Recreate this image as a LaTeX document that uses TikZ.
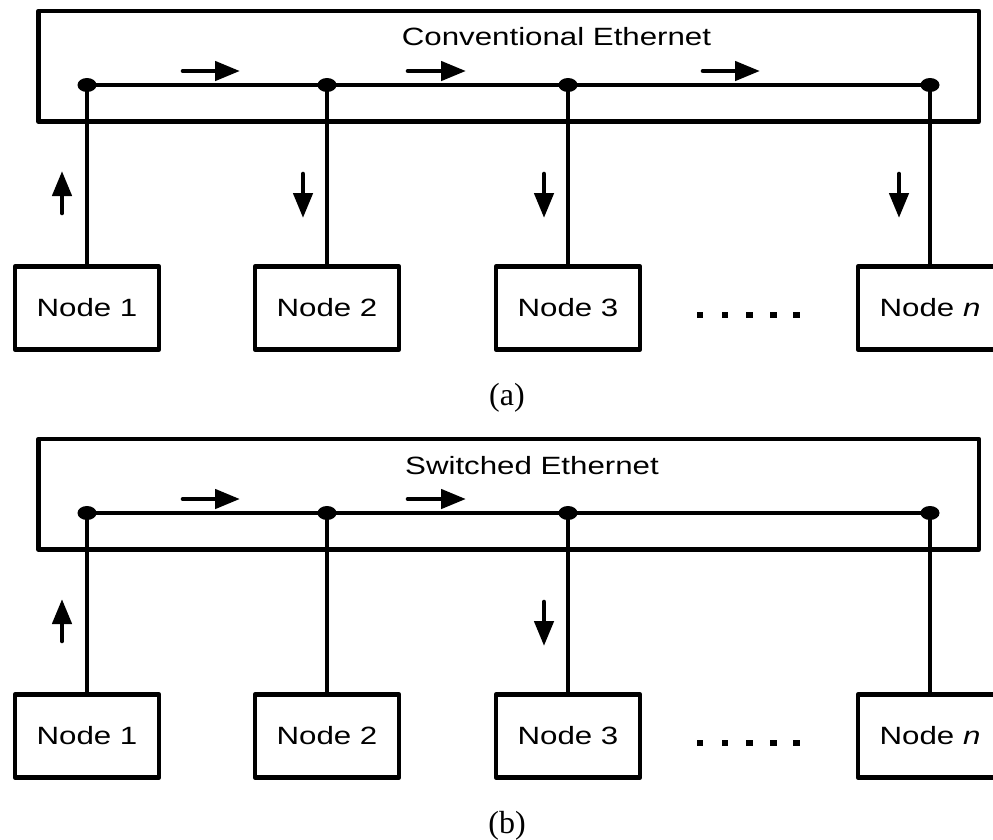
\documentclass[tikz,border=0pt]{standalone}
\usepackage{fontspec}
\setmainfont{Liberation Serif}
\newfontfamily\labelfont[FakeStretch=1.25]{Liberation Sans}
\usetikzlibrary{arrows.meta,shapes.geometric}
\tikzset{
  wire/.style={line width=4.3pt, line join=round},
  frame/.style={draw, line width=4.3pt, line join=round},
  station/.style={draw, line width=4.3pt, line join=round,
    minimum width=144.5pt, minimum height=83pt, inner sep=0pt,
    font=\labelfont\fontsize{25}{30}\selectfont},
  tap/.style={ellipse, fill, minimum width=19pt, minimum height=14pt, inner sep=0pt},
  flow/.style={line width=4.6pt, line cap=round, -{Triangle[length=25pt,width=19pt]}},
  title/.style={font=\labelfont\fontsize{25}{30}\selectfont, inner sep=0pt},
  caption/.style={font=\fontsize{32}{38}\selectfont, inner sep=0pt},
  pause/.style={fill, minimum size=6.5pt, inner sep=0pt}
}
\begin{document}
\begin{tikzpicture}[x=1pt,y=-1pt]
\useasboundingbox (0,0) rectangle (993,839);
\clip (0,0) rectangle (993,839);

% ---------- (a) conventional Ethernet ----------
\draw[frame] (38.5,11) rectangle (979,121.5);
\node[title] (ta) at (556.5,37) {Conventional Ethernet};
\node[station] (a1) at (87,308) {Node 1};
\node[station] (a2) at (327,308) {Node 2};
\node[station] (a3) at (568,308) {Node 3};
\node[station] (an) at (930,308) {Node \textit{n}};
\coordinate (pa1) at (87,85);
\coordinate (pa2) at (327,85);
\coordinate (pa3) at (568,85);
\coordinate (pan) at (930,85);
\draw[wire] (pa1) -- (pan);
\draw[wire] (pa1) -- (a1.north);
\draw[wire] (pa2) -- (a2.north);
\draw[wire] (pa3) -- (a3.north);
\draw[wire] (pan) -- (an.north);
\node[tap] (ja1) at (pa1) {};
\node[tap] (ja2) at (pa2) {};
\node[tap] (ja3) at (pa3) {};
\node[tap] (jan) at (pan) {};
\draw[flow] (183,71) -- (240,71);
\draw[flow] (408,71) -- (466,71);
\draw[flow] (703,71) -- (760,71);
\draw[flow] (62,213) -- (62,171);
\draw[flow] (303,174) -- (303,218);
\draw[flow] (544,174) -- (544,218);
\draw[flow] (899,174) -- (899,218);
\node[pause] (da1) at (700,315) {};
\node[pause] (da2) at (725,315) {};
\node[pause] (da3) at (749.5,315) {};
\node[pause] (da4) at (773.5,315) {};
\node[pause] (da5) at (796.5,315) {};
\node[caption] (ca) at (507,397.5) {(a)};

% ---------- (b) switched Ethernet ----------
\begin{scope}[yshift=-428pt]
\draw[frame] (38.5,11) rectangle (979,121.5);
\node[title] (tb) at (532,38) {Switched Ethernet};
\node[station] (b1) at (87,308) {Node 1};
\node[station] (b2) at (327,308) {Node 2};
\node[station] (b3) at (568,308) {Node 3};
\node[station] (bn) at (930,308) {Node \textit{n}};
\coordinate (pb1) at (87,85);
\coordinate (pb2) at (327,85);
\coordinate (pb3) at (568,85);
\coordinate (pbn) at (930,85);
\draw[wire] (pb1) -- (pbn);
\draw[wire] (pb1) -- (b1.north);
\draw[wire] (pb2) -- (b2.north);
\draw[wire] (pb3) -- (b3.north);
\draw[wire] (pbn) -- (bn.north);
\node[tap] (jb1) at (pb1) {};
\node[tap] (jb2) at (pb2) {};
\node[tap] (jb3) at (pb3) {};
\node[tap] (jbn) at (pbn) {};
\draw[flow] (183,71) -- (240,71);
\draw[flow] (408,71) -- (466,71);
\draw[flow] (62,213) -- (62,171);
\draw[flow] (544,174) -- (544,218);
\node[pause] (db1) at (700,315) {};
\node[pause] (db2) at (725,315) {};
\node[pause] (db3) at (749.5,315) {};
\node[pause] (db4) at (773.5,315) {};
\node[pause] (db5) at (796.5,315) {};
\node[caption] (cb) at (507,397.5) {(b)};
\end{scope}
\end{tikzpicture}
\end{document}
